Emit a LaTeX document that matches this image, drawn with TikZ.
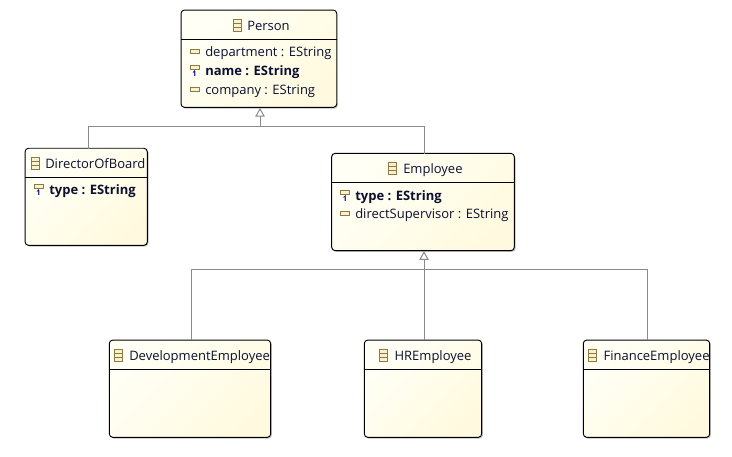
\documentclass[tikz,border=0pt]{standalone}
\usepackage{fontspec}
\setmainfont{Open Sans}
\usetikzlibrary{
  positioning,
  shadows,
  arrows.meta
}
\definecolor{boxstart}{HTML}{FFFFF6}
\definecolor{boxend}{HTML}{FFFADF}
\definecolor{icontan}{HTML}{8C7A3E}
\definecolor{iconfill}{HTML}{F8F0D0}
\definecolor{inkblue}{HTML}{0B1030}
\definecolor{wire}{HTML}{8A8A8A}
\tikzset{
  classbox/.style={draw=black,line width=0.7pt,rounded corners=2.6pt,
    left color=boxstart,right color=boxend,shading angle=45,
    drop shadow={shadow xshift=0.9pt,shadow yshift=-0.9pt,fill=black,opacity=.25},
    inner sep=0pt},
  title/.style={font=\fontsize{9.75}{11}\selectfont,text=inkblue,inner sep=0pt,anchor=west,text height=9.2pt,text depth=1.5pt},
  attr/.style={title},
  idattr/.style={title,font=\fontsize{9.75}{11}\selectfont\bfseries},
  divider/.style={line width=0.7pt,black},
  inherit/.style={draw=wire,line width=0.75pt,-{Triangle[open,fill=white,length=6.5pt,width=7pt]}},
  wireline/.style={draw=wire,line width=0.75pt},
  pics/classicon/.style={code={
    \draw[icontan,fill=iconfill,line width=0.75pt] (-4,-6) rectangle (4,6);
    \draw[icontan,line width=0.75pt] (-4,-2) -- (4,-2) (-4,2) -- (4,2);}},
  pics/attricon/.style={code={
    \draw[icontan,fill=iconfill,line width=0.75pt] (-4.5,-2) rectangle (4.5,2);}},
  pics/idicon/.style={code={
    \draw[icontan,fill=iconfill,line width=0.75pt] (-4.5,-4.5) rectangle (4.5,-0.5);
    \draw[icontan,line width=0.6pt] (0,-0.5) -- (0,1);
    \node[inner sep=0pt,text=blue!60!black,font=\fontsize{5.5}{6}\selectfont\bfseries] at (0,4) {1};}}
}
\begin{document}
\begin{tikzpicture}[x=0.75pt,y=-0.75pt]
  \useasboundingbox (0,0) rectangle (732,457);
  % classes
  \node[classbox,minimum width=116.8pt,minimum height=73pt] (person) at (258.9,58.7) {};
  \node[classbox,minimum width=91.7pt,minimum height=72.8pt] (director) at (86.2,196.8) {};
  \node[classbox,minimum width=137pt,minimum height=73pt] (employee) at (423,202) {};
  \node[classbox,minimum width=121pt,minimum height=73pt] (development) at (190,388.7) {};
  \node[classbox,minimum width=88pt,minimum height=73pt] (hr) at (423,388.7) {};
  \node[classbox,minimum width=94.8pt,minimum height=73pt] (finance) at (646.5,388.7) {};
  % header lines
  \draw[divider] (person.west |- 0,39) -- (person.east |- 0,39);
  \draw[divider] (director.west |- 0,177) -- (director.east |- 0,177);
  \draw[divider] (employee.west |- 0,182) -- (employee.east |- 0,182);
  \draw[divider] (development.west |- 0,369.3) -- (development.east |- 0,369.3);
  \draw[divider] (hr.west |- 0,369.3) -- (hr.east |- 0,369.3);
  \draw[divider] (finance.west |- 0,369.3) -- (finance.east |- 0,369.3);
  % titles
  \pic at (237,25) {classicon};
  \node[title] (personname) at (247,25) {Person};
  \pic at (35,163) {classicon};
  \node[title] (directorname) at (45,163) {DirectorOfBoard};
  \pic at (392.5,168) {classicon};
  \node[title] (employeename) at (403,168) {Employee};
  \pic at (118.5,355) {classicon};
  \node[title] (developmentname) at (129,355) {DevelopmentEmployee};
  \pic at (383.7,355) {classicon};
  \node[title] (hrname) at (394.3,355) {HREmployee};
  \pic at (592.5,355) {classicon};
  \node[title] (financename) at (603.3,355) {FinanceEmployee};
  % attributes
  \pic at (194.5,51) {attricon};
  \node[attr] (department) at (205,51) {department : EString};
  \pic at (194.5,70) {idicon};
  \node[idattr] (personid) at (205,70) {name : EString};
  \pic at (194.5,89) {attricon};
  \node[attr] (company) at (205,89) {company : EString};
  \pic at (38.5,189) {idicon};
  \node[idattr] (directortype) at (49,189) {type : EString};
  \pic at (345,195) {idicon};
  \node[idattr] (employeetype) at (355,195) {type : EString};
  \pic at (345,213.5) {attricon};
  \node[attr] (supervisor) at (355,213.5) {directSupervisor : EString};
  % inheritance
  \coordinate (personbus) at (260,126.7);
  \coordinate (employeebus) at (424,269.5);
  \draw[wireline] (88,148.5) |- (personbus) -| (424,153.5);
  \draw[inherit] (personbus) -- (personbus |- person.south);
  \draw[wireline] (191.5,340) |- (employeebus) -| (647,340);
  \draw[wireline] (employeebus) -- (employeebus |- hr.north);
  \draw[inherit] (employeebus) -- (employeebus |- employee.south);
\end{tikzpicture}
\end{document}
